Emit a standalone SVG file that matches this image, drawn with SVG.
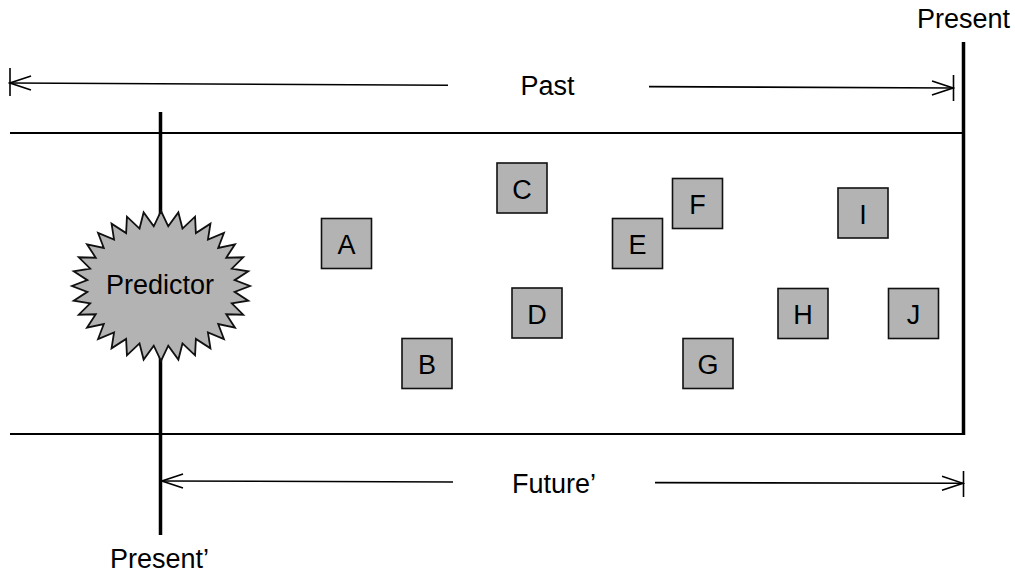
<svg xmlns="http://www.w3.org/2000/svg" width="1015" height="574" viewBox="0 0 1015 574">
<defs>
<marker id="arr" markerUnits="userSpaceOnUse" viewBox="-22 -9 24 18" refX="0" refY="0" markerWidth="24" markerHeight="18" orient="auto-start-reverse">
<path d="M-21,-7 L0,0 L-21,7" fill="none" stroke="#000" stroke-width="1.6"/>
</marker>
</defs>
<style>
text{font-family:"Liberation Sans",Arial,sans-serif;font-size:27px;fill:#000;text-anchor:middle}
.box{fill:#b3b3b3;stroke:#111;stroke-width:1.6}
.thin{stroke:#000;stroke-width:1.6;fill:none}
.mid{stroke:#000;stroke-width:2;fill:none}
.thick{stroke:#000;stroke-width:3.5;fill:none}
</style>
<rect width="1015" height="574" fill="#fff"/>
<g id="connectors">
<line class="mid" x1="10" y1="133" x2="963" y2="133"/>
<line class="mid" x1="10" y1="434" x2="963" y2="434"/>
<line class="thick" x1="963.5" y1="42" x2="963.5" y2="435"/>
<line class="thick" x1="160.5" y1="112" x2="160.5" y2="535"/>
<line class="thin" x1="10" y1="68" x2="10" y2="96"/>
<line class="thin" x1="953.5" y1="75" x2="953.5" y2="101"/>
<line class="thin" x1="448" y1="85.3" x2="10" y2="83" marker-end="url(#arr)"/>
<line class="thin" x1="649" y1="86.6" x2="953" y2="88" marker-end="url(#arr)"/>
<line class="thin" x1="963.5" y1="471" x2="963.5" y2="497"/>
<line class="thin" x1="453" y1="482" x2="162" y2="481" marker-end="url(#arr)"/>
<line class="thin" x1="655" y1="482.6" x2="963" y2="483.3" marker-end="url(#arr)"/>
</g>
<g id="labels">
<text x="963.5" y="28">Present</text>
<text x="547.5" y="95">Past</text>
<text x="554" y="493">Future’</text>
<text x="159.5" y="568">Present’</text>
</g>
<g id="predictor">
<polygon fill="#b3b3b3" stroke="#111" stroke-width="1.8" stroke-linejoin="miter" points="161,211 168.25,226.29 178.36,212.44 182.48,228.58 195.06,216.71 195.88,233.08 210.45,223.64 207.94,239.62 223.93,232.97 218.2,247.94 235,244.33 226.26,257.72 243.23,257.3 231.81,268.58 248.29,271.37 234.64,280.12 250,286 234.64,291.88 248.29,300.63 231.81,303.42 243.23,314.7 226.26,314.28 235,327.67 218.2,324.06 223.93,339.03 207.94,332.38 210.45,348.36 195.88,338.92 195.06,355.29 182.48,343.42 178.36,359.56 168.25,345.71 161,361 153.75,345.71 143.64,359.56 139.52,343.42 126.94,355.29 126.12,338.92 111.55,348.36 114.06,332.38 98.07,339.03 103.8,324.06 87,327.67 95.74,314.28 78.77,314.7 90.19,303.42 73.71,300.63 87.36,291.88 72,286 87.36,280.12 73.71,271.37 90.19,268.58 78.77,257.3 95.74,257.72 87,244.33 103.8,247.94 98.07,232.97 114.06,239.62 111.55,223.64 126.12,233.08 126.94,216.71 139.52,228.58 143.64,212.44 153.75,226.29"/>
<text x="160" y="293.5">Predictor</text>
</g>
<g id="A"><rect class="box" x="321.5" y="218.5" width="50" height="50"/><text x="346.5" y="254">A</text></g>
<g id="B"><rect class="box" x="402" y="338.5" width="50" height="50"/><text x="427" y="374">B</text></g>
<g id="C"><rect class="box" x="497" y="163" width="50" height="50"/><text x="522" y="198.5">C</text></g>
<g id="D"><rect class="box" x="512" y="288" width="50" height="50"/><text x="537" y="323.5">D</text></g>
<g id="E"><rect class="box" x="612.5" y="218.5" width="50" height="50"/><text x="637.5" y="254">E</text></g>
<g id="F"><rect class="box" x="672.5" y="178.5" width="50" height="50"/><text x="697.5" y="214">F</text></g>
<g id="G"><rect class="box" x="683" y="338.5" width="50" height="50"/><text x="708" y="374">G</text></g>
<g id="H"><rect class="box" x="778" y="288.5" width="50" height="50"/><text x="803" y="324">H</text></g>
<g id="I"><rect class="box" x="838" y="188" width="50" height="50"/><text x="863" y="223.5">I</text></g>
<g id="J"><rect class="box" x="888.5" y="288.5" width="50" height="50"/><text x="913.5" y="324">J</text></g>
</svg>
